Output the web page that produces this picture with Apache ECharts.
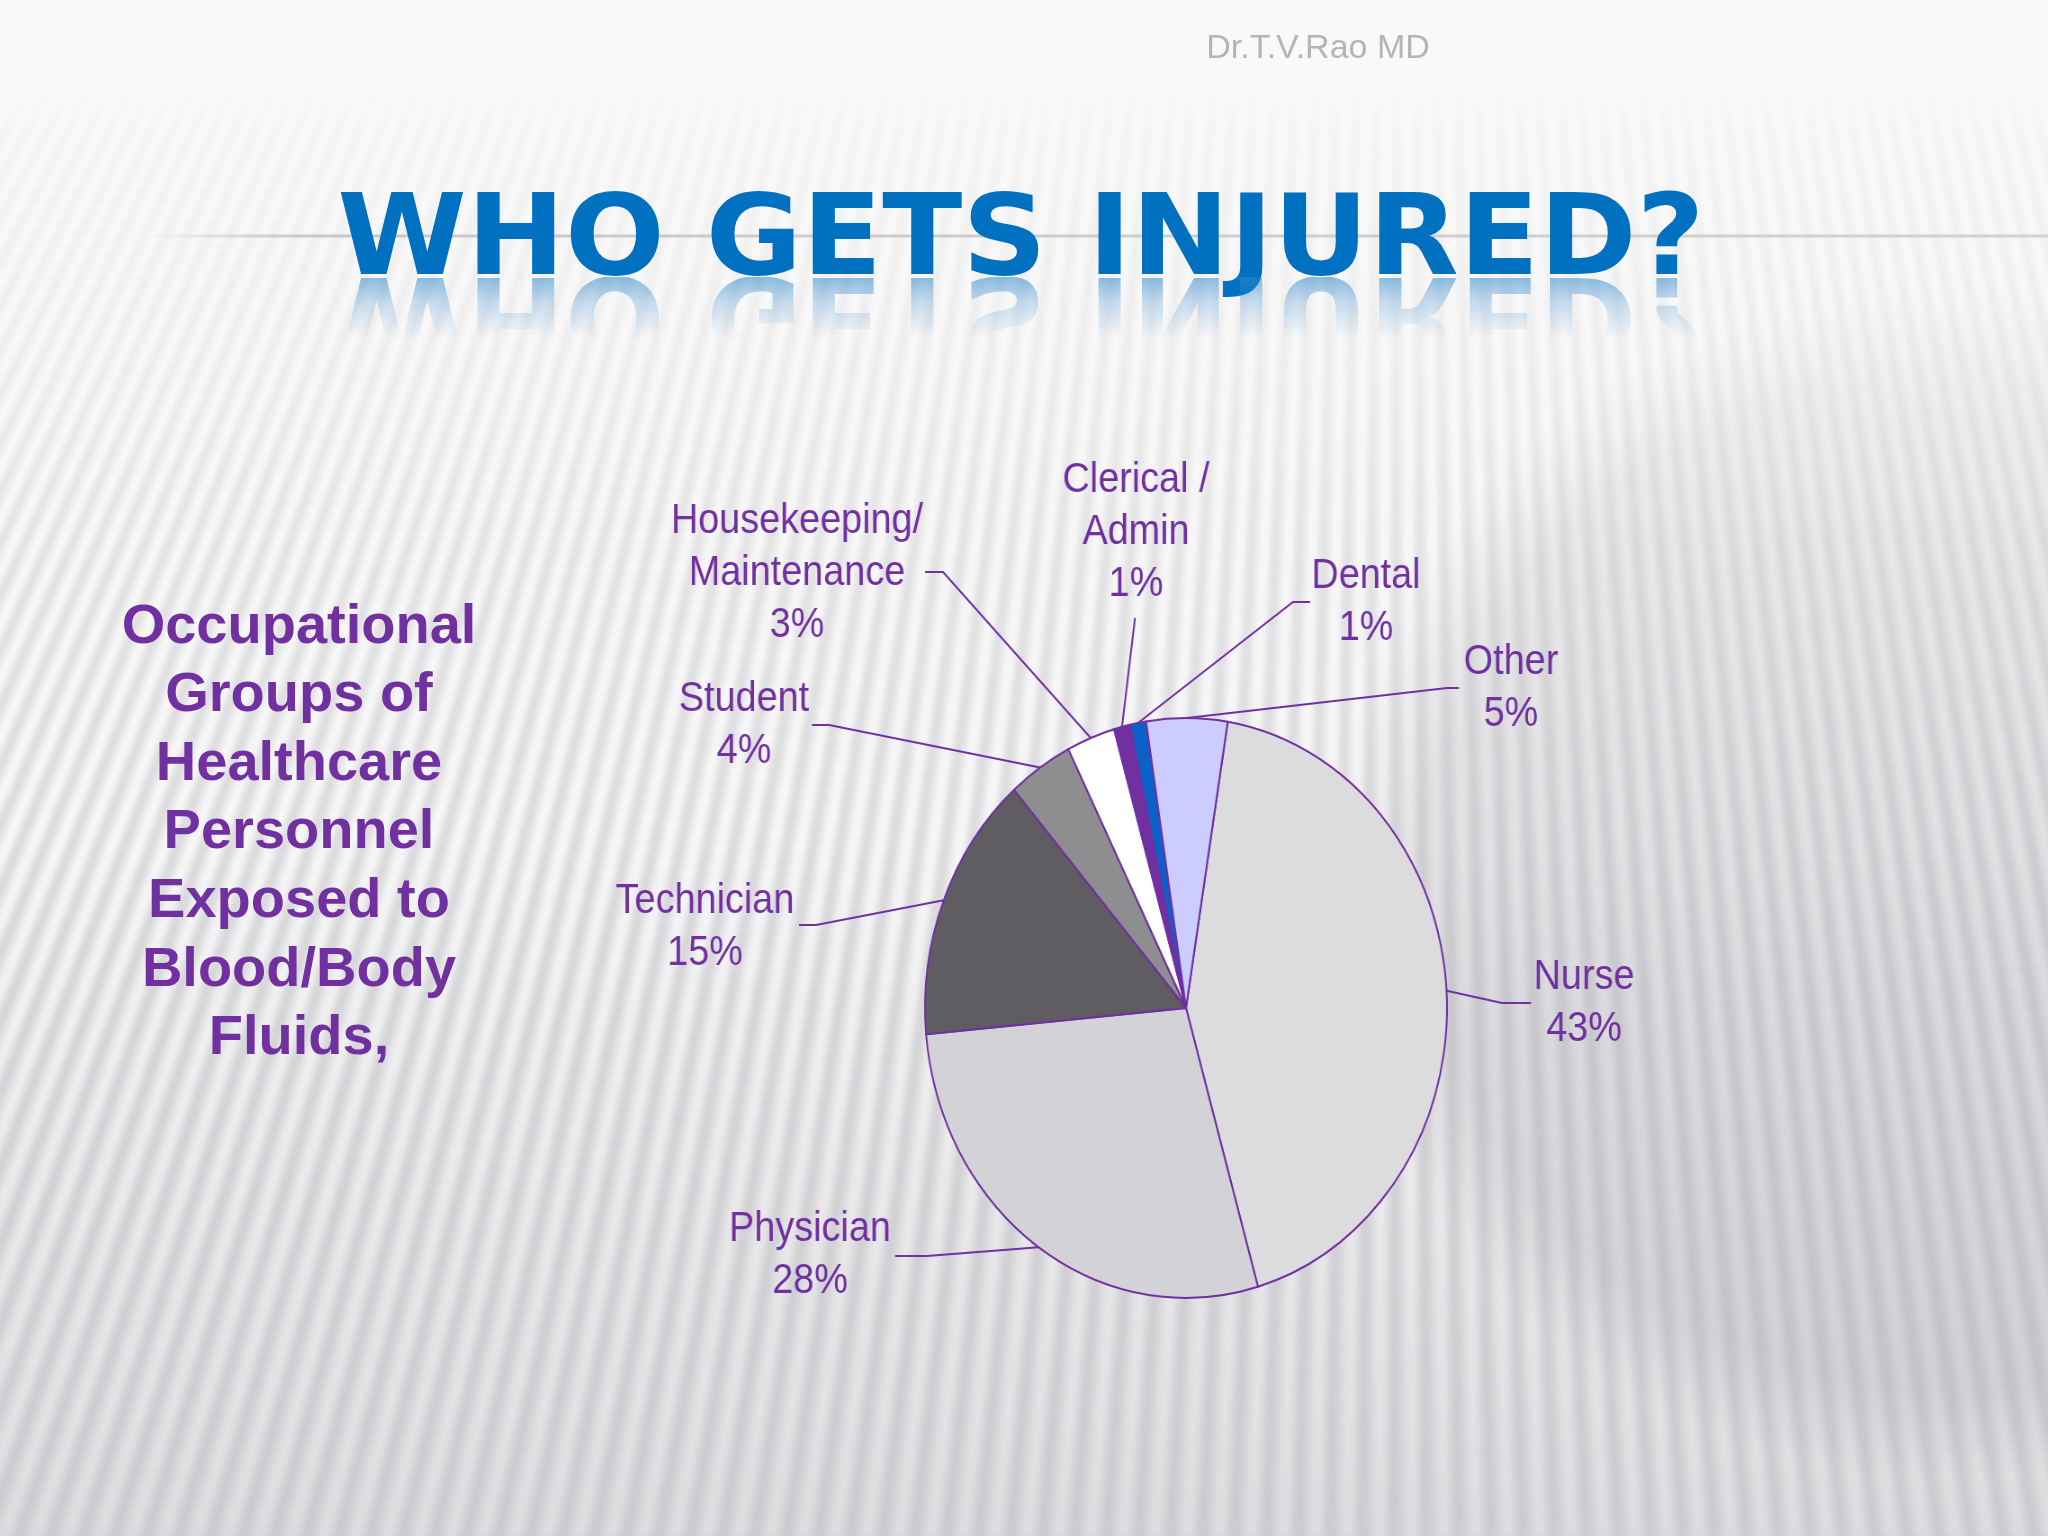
<!DOCTYPE html>
<html>
<head>
<meta charset="utf-8">
<script src="https://cdn.jsdelivr.net/npm/echarts@6/dist/echarts.min.js"></script>
<style>
  html, body { margin: 0; padding: 0; }
  body { width: 2048px; height: 1536px; overflow: hidden; position: relative; background: #e4e4e6; }
  #floor {
    position: absolute; left: -1600px; top: -3664px; width: 6000px; height: 5200px;
    transform-origin: 50% 100%;
    transform: perspective(6928px) rotateX(60deg);
    filter: blur(2px);
    background: repeating-linear-gradient(90deg, #f6f6f7 0px, #f6f6f7 7px, #d9d9dc 16px, #d9d9dc 21px, #f6f6f7 32px);
  }
  #shade {
    position: absolute; left: 0; top: 0; width: 2048px; height: 1536px;
    background:
      linear-gradient(to bottom, rgba(249,249,249,1) 0px, rgba(249,249,249,1) 70px, rgba(249,249,249,0.8) 150px, rgba(249,249,249,0.62) 360px, rgba(249,249,249,0.3) 560px, rgba(249,249,249,0.08) 850px, rgba(249,249,249,0) 1000px),
      radial-gradient(ellipse 620px 600px at 1950px 880px, rgba(165,165,172,0.3) 0%, rgba(165,165,172,0.28) 85%, rgba(165,165,172,0) 100%),
      linear-gradient(to bottom, rgba(180,180,186,0) 850px, rgba(180,180,186,0.38) 1536px);
  }
  #bg, #pie { position: absolute; left: 0; top: 0; width: 2048px; height: 1536px; }
  #refl {
    position: absolute; left: 0; top: 277px; width: 2048px; height: 90px;
    -webkit-mask-image: linear-gradient(to bottom, rgba(0,0,0,1) 0px, rgba(0,0,0,0.45) 25px, rgba(0,0,0,0) 62px);
    mask-image: linear-gradient(to bottom, rgba(0,0,0,1) 0px, rgba(0,0,0,0.45) 25px, rgba(0,0,0,0) 62px);
  }
  #pie { transform: scaleX(0.9); transform-origin: 1186px 1008px; }
</style>
</head>
<body>
<div id="floor"></div>
<div id="shade"></div>
<div id="bg"></div>
<div id="refl"></div>
<div id="pie"></div>
<script>
// ---- data ----
const categories = ['Nurse', 'Physician', 'Technician', 'Student', 'Housekeeping/\nMaintenance', 'Clerical /\nAdmin', 'Dental', 'Other'];
const values = [43, 28, 15, 4, 3, 1, 1, 5];
const titleText = 'WHO GETS INJURED?';
const sideText = ['Occupational', 'Groups of', 'Healthcare', 'Personnel', 'Exposed to', 'Blood/Body', 'Fluids,'];
const authorText = 'Dr.T.V.Rao MD';

// ---- styles / layout (not data) ----
const sliceColors = ['#dcdcdf', '#d3d3d7', '#5f5d62', '#8e8e90', '#ffffff', '#7030a0', '#0a62c8', '#ccccff'];
const purple = '#7030a0';
const SX = 0.9, CX = 1186, CY = 1008;
function px(x) { return CX + (x - CX) / SX; }
// label centres and leader-line elbow/end in page pixels
const labelPos = [[1584, 1003], [810, 1255], [705, 927], [744, 725], [797, 573], [1136, 532], [1366, 602], [1511, 688]];
const lineElbow = [[1502, 1003], [927, 1256], [816, 925], [829, 725], [943, 572], [1135, 618], [1293, 602], [1447, 688]];
const lineEnd = [[1531, 1003], [895, 1256], [799, 925], [812, 725], [925, 572], [1135, 618], [1310, 602], [1459, 688]];

// ---- background chart: titles and text ----
const bg = echarts.init(document.getElementById('bg'), null, { renderer: 'canvas' });
bg.setOption({
  backgroundColor: 'transparent',
  animation: false,
  graphic: [
    {
      type: 'line', shape: { x1: 150, y1: 236, x2: 2048, y2: 236 },
      style: { lineWidth: 3, stroke: new echarts.graphic.LinearGradient(0, 0, 1, 0, [
        { offset: 0, color: 'rgba(190,190,190,0)' }, { offset: 0.08, color: 'rgba(195,195,195,0.9)' }, { offset: 1, color: 'rgba(205,205,205,0.9)' }]) }
    },
    {
      type: 'text', x: 1021, y: 245, scaleX: 1.048,
      style: { text: titleText, font: 'bold 112px "DejaVu Sans"', fill: '#0070c0',
        textAlign: 'center', textVerticalAlign: 'middle' }
    },
    {
      type: 'text', x: 1318, y: 49,
      style: { text: authorText, font: '34px "Liberation Sans", Arial', fill: '#b5b5b5',
        textAlign: 'center', textVerticalAlign: 'middle' }
    },
    {
      type: 'text', x: 299, y: 833,
      style: { text: sideText.join('\n'), font: 'bold 56px "Liberation Sans", Arial', fill: purple,
        lineHeight: 68.6, textAlign: 'center', textVerticalAlign: 'middle' }
    }
  ]
});

// ---- reflection of the title (faded by the container's CSS mask) ----
const refl = echarts.init(document.getElementById('refl'), null, { renderer: 'canvas' });
refl.setOption({
  backgroundColor: 'transparent',
  animation: false,
  graphic: [{
    type: 'text', x: 1021, y: 307 - 277, scaleX: 1.048, scaleY: -1,
    style: { text: titleText, font: 'bold 112px "DejaVu Sans"', fill: '#2f86cc', opacity: 0.55,
      textAlign: 'center', textVerticalAlign: 'middle' }
  }]
});

// ---- pie chart (container compressed horizontally to give the elliptical pie) ----
const pie = echarts.init(document.getElementById('pie'), null, { renderer: 'canvas' });
pie.setOption({
  backgroundColor: 'transparent',
  animation: false,
  series: [{
    type: 'pie',
    center: [CX, CY],
    radius: 290,
    startAngle: 80.8,
    clockwise: true,
    avoidLabelOverlap: false,
    data: categories.map((c, i) => ({ name: c, value: values[i], itemStyle: { color: sliceColors[i] } })),
    itemStyle: { borderColor: purple, borderWidth: 2 },
    label: {
      show: true,
      color: purple,
      fontFamily: '"Liberation Sans", Arial',
      fontSize: 42,
      lineHeight: 52,
      align: 'center',
      formatter: p => p.name + '\n' + Math.round(p.percent) + '%'
    },
    labelLine: { show: true, length: 20, length2: 10, lineStyle: { color: purple, width: 2 } },
    labelLayout: function (params) {
      const i = params.dataIndex;
      const pts = params.labelLinePoints;
      const res = {
        x: px(labelPos[i][0]), y: labelPos[i][1], align: 'center', verticalAlign: 'middle'
      };
      if (pts) {
        res.labelLinePoints = [pts[0], [px(lineElbow[i][0]), lineElbow[i][1]], [px(lineEnd[i][0]), lineEnd[i][1]]];
      }
      return res;
    },
    emphasis: { disabled: true }
  }]
});
</script>
</body>
</html>
